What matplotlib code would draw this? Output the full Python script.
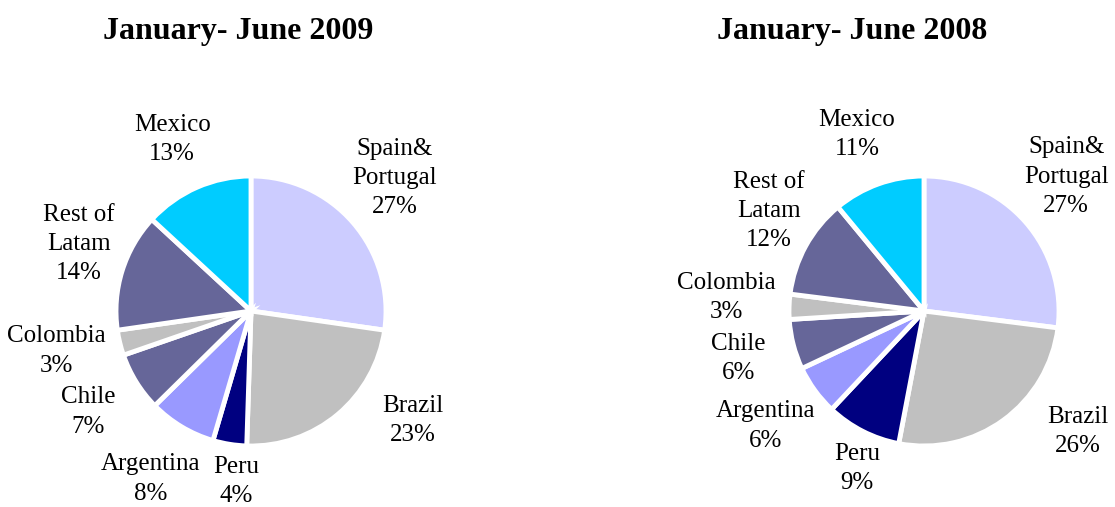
import numpy as np
import matplotlib
matplotlib.use("Agg")
import matplotlib.pyplot as plt

plt.rcParams['font.family'] = ['Liberation Serif', 'DejaVu Serif']

# Datos
regions = ['Spain&\nPortugal', 'Brazil', 'Peru', 'Argentina', 'Chile',
           'Colombia', 'Rest of\nLatam', 'Mexico']
share_2009 = [27, 23, 4, 8, 7, 3, 14, 13]
share_2008 = [27, 26, 9, 6, 6, 3, 12, 11]
titles = ['January- June 2009', 'January- June 2008']

colors = ['#CCCCFF', '#C0C0C0', '#000080', '#9999FF', '#666699',
          '#C0C0C0', '#666699', '#00CCFF']

# ajuste de las etiquetas: (giro en grados, distancia en radios)
label_pos = {'Spain&\nPortugal': (2, 1.45), 'Brazil': (16, 1.45),
             'Peru': (4, 1.27), 'Argentina': (0, 1.45), 'Chile': (0, 1.42),
             'Colombia': (-2, 1.47), 'Rest of\nLatam': (-4, 1.37),
             'Mexico': (1, 1.4)}

fig = plt.figure(figsize=(11.15, 5.07), dpi=100)
W, H = 1115, 507
R = 135  # radio en px
a = 1.55


def draw_pie(cx, cy, values, title, tx):
    size = 2 * a * R
    ax = fig.add_axes([(cx - size / 2) / W, (H - cy - size / 2) / H, size / W, size / H])
    wedges, _ = ax.pie(values, colors=colors, startangle=90, counterclock=False,
                       wedgeprops=dict(edgecolor='white', linewidth=3.5))
    ax.set_xlim(-a, a)
    ax.set_ylim(-a, a)
    ax.set_aspect('equal')
    ax.axis('off')
    total = sum(values)
    for w, name, v in zip(wedges, regions, values):
        nudge, d = label_pos[name]
        ang = (w.theta1 + w.theta2) / 2 + nudge
        x = d * np.cos(np.radians(ang))
        y = d * np.sin(np.radians(ang))
        pct = round(100 * v / total)
        ax.text(x, y, f'{name}\n{pct}%', ha='center', va='center',
                fontsize=18, linespacing=1.42, clip_on=False)
    fig.text(tx / W, 1 - 31 / H, title, ha='center', va='center',
             fontsize=23, fontweight='bold')


draw_pie(251, 311, share_2009, titles[0], 238)
draw_pie(924, 311, share_2008, titles[1], 852)

fig.savefig('out.png', dpi=100, facecolor='white')
